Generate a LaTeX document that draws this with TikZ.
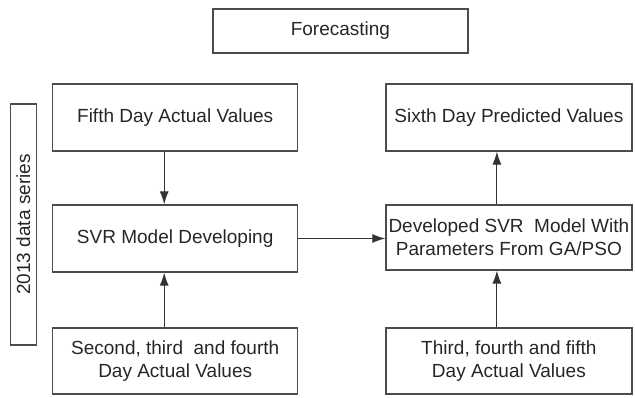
\documentclass[tikz,border=0pt]{standalone}
\usepackage{fontspec}
\setmainfont{Liberation Sans}
\usetikzlibrary{arrows.meta}
\tikzset{
	blk/.style={draw=black!70, line width=1.2pt, minimum width=245pt, minimum height=67pt, align=center, inner sep=0pt, text=black!85, font=\fontsize{19}{23}\selectfont},
	arr/.style={draw=black!80, line width=1.1pt, -{Latex[length=13pt,width=9pt]}}
}

\begin{document}
\begin{tikzpicture}[x=1pt, y=-1pt]
			%%%%% START %%%%%
			
			\useasboundingbox (0, 0) rectangle (635, 398);
			
			\node[blk, minimum width=255pt, minimum height=44pt] (fc) at (340.4, 31) {Forecasting};
			
			\node[blk] (fifth) at (175.2, 117.5) {Fifth Day Actual Values};
			\node[blk, minimum width=246pt] (sixth) at (508.9, 117.5) {Sixth Day Predicted Values};
			
			\node[blk] (svr) at (175.2, 238.5) {SVR Model Developing};
			\node[blk, minimum width=246pt, minimum height=65pt] (dev) at (508.9, 237.5) {Developed SVR\ \ Model With\\Parameters From GA/PSO};
			
			\node[blk, minimum height=66pt] (second) at (175.2, 361) {Second, third\ \ and fourth\\Day Actual Values};
			\node[blk, minimum width=246pt, minimum height=66pt] (third) at (508.9, 361) {Third, fourth and fifth\\Day Actual Values};
			
			\node[blk, minimum width=26pt, minimum height=241pt] (side) at (23.3, 224.5) {};
			\node[rotate=90, text=black!85, font=\fontsize{19}{23}\selectfont] (sidetxt) at (side.center) {2013 data series};
			
			\draw[arr] ([xshift=-11pt]fifth.south) -- ([xshift=-11pt]svr.north);
			\draw[arr] ([xshift=-11pt]second.north) -- ([xshift=-11pt]svr.south);
			\draw[arr] (svr.east) -- (dev.west |- svr.east);
			\draw[arr] ([xshift=-12pt]third.north) -- ([xshift=-12pt]dev.south);
			\draw[arr] ([xshift=-12pt]dev.north) -- ([xshift=-12pt]sixth.south);
			
			%%%%% END %%%%%
\end{tikzpicture}
\end{document}
